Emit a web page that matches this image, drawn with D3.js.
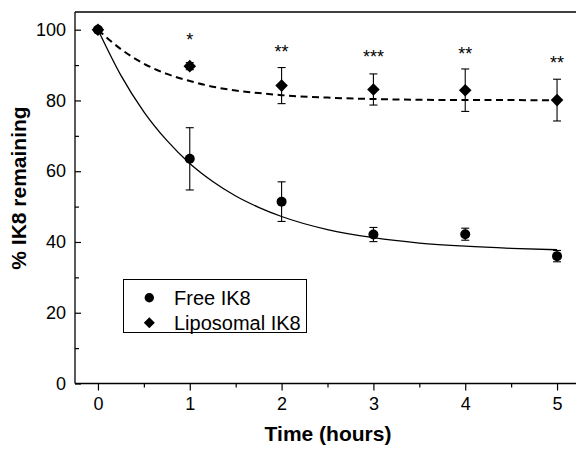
<!DOCTYPE html>
<html>
<head>
<meta charset="utf-8">
<script src="https://cdn.jsdelivr.net/npm/d3@7"></script>
<style>
  html, body { margin: 0; padding: 0; background: #fff; }
  svg { display: block; }
  text { font-family: Arial, "Liberation Sans", sans-serif; fill: #000; }
</style>
</head>
<body>
<svg id="chart" width="576" height="449"></svg>
<script>
// ---- data ----
const timePoints = [0, 1, 2, 3, 4, 5];
const freeMean = [100, 63.5, 51.4, 42.1, 42.2, 36.0];
const freeErr = [0, 8.8, 5.6, 2.0, 1.7, 1.6];
const liposomalMean = [100, 89.7, 84.2, 83.1, 82.9, 80.1];
const liposomalErr = [0, 1.0, 5.1, 4.4, 6.0, 5.9];

const fitX = [0, 0.25, 0.5, 0.75, 1, 1.25, 1.5, 1.75, 2, 2.5, 3, 3.5, 4, 4.5, 5];
const freeFit = [100, 87.1, 76.8, 68.7, 62.2, 57.1, 53.0, 49.8, 47.2, 43.5, 41.2, 39.7, 38.8, 38.2, 37.8];
const liposomalFit = [100, 94.5, 90.4, 87.5, 85.5, 83.9, 82.8, 82.1, 81.5, 80.8, 80.4, 80.2, 80.1, 80.1, 80.0];

const starLabels = ["*", "**", "***", "**", "**"];
const starX = [1, 2, 3, 4, 5];
const starY = [98.2, 94.7, 93.3, 94.2, 91.6];

const xTicks = [0, 1, 2, 3, 4, 5];
const xMinorTicks = [0.5, 1.5, 2.5, 3.5, 4.5];
const yTicks = [0, 20, 40, 60, 80, 100];
const yMinorTicks = [10, 30, 50, 70, 90];

const legendLabels = ["Free IK8", "Liposomal IK8"];
const xTitle = "Time (hours)";
const yTitle = "% IK8 remaining";

// ---- layout ----
const svg = d3.select("#chart");
const pL = 75, pR = 580, pT = 12, pB = 383.5;

const x = d3.scaleLinear().domain([-0.25, 5.25]).range([pL, pR]);
const y = d3.scaleLinear().domain([0, 105]).range([pB, pT]);

const FONT = 'Arial, "Liberation Sans", sans-serif';

// frame top line
svg.append("line")
  .attr("x1", pL).attr("x2", pR).attr("y1", pT).attr("y2", pT)
  .attr("stroke", "#000").attr("stroke-width", 1.3);

// x axis
const xAxis = svg.append("g").attr("transform", `translate(0,${pB})`)
  .call(d3.axisBottom(x).tickValues(xTicks).tickSize(7).tickPadding(7).tickFormat(d3.format("d")));
const xMinor = svg.append("g").attr("transform", `translate(0,${pB})`)
  .call(d3.axisBottom(x).tickValues(xMinorTicks).tickSize(4).tickFormat(""));
xMinor.select(".domain").remove();

// y axis (ticks inward)
const yAxis = svg.append("g").attr("transform", `translate(${pL},0)`)
  .call(d3.axisLeft(y).tickValues(yTicks).tickSize(-6).tickPadding(9).tickFormat(d3.format("d")));
const yMinor = svg.append("g").attr("transform", `translate(${pL},0)`)
  .call(d3.axisLeft(y).tickValues(yMinorTicks).tickSize(-4).tickFormat(""));
yMinor.select(".domain").remove();

[xAxis, yAxis, xMinor, yMinor].forEach(g => {
  g.selectAll(".domain").attr("stroke", "#000").attr("stroke-width", 1.3);
  g.selectAll(".tick line").attr("stroke", "#000").attr("stroke-width", 1.2);
  g.selectAll(".tick text").attr("font-family", FONT).attr("font-size", 18).attr("fill", "#000");
});
yAxis.select(".domain").attr("d", `M0,${pT}V${pB}`);
xAxis.select(".domain").attr("d", `M${pL},0H${pR}`);

// fit curves
const fitLine = d3.line().x((d, i) => x(fitX[i])).y(d => y(d)).curve(d3.curveMonotoneX);
svg.append("path").attr("d", fitLine(freeFit))
  .attr("fill", "none").attr("stroke", "#000").attr("stroke-width", 1.3);
svg.append("path").attr("d", fitLine(liposomalFit))
  .attr("fill", "none").attr("stroke", "#000").attr("stroke-width", 2)
  .attr("stroke-dasharray", "7,4.5");

// error bars
function errorBars(means, errs) {
  const g = svg.append("g").attr("stroke", "#000").attr("stroke-width", 1.1);
  timePoints.forEach((t, i) => {
    if (!errs[i]) return;
    const cx = x(t), y1 = y(means[i] + errs[i]), y2 = y(means[i] - errs[i]);
    g.append("line").attr("x1", cx).attr("x2", cx).attr("y1", y1).attr("y2", y2);
    g.append("line").attr("x1", cx - 4).attr("x2", cx + 4).attr("y1", y1).attr("y2", y1);
    g.append("line").attr("x1", cx - 4).attr("x2", cx + 4).attr("y1", y2).attr("y2", y2);
  });
}
errorBars(freeMean, freeErr);
errorBars(liposomalMean, liposomalErr);

// markers
const diamond = (s) => `M0,${-s}L${s},0L0,${s}L${-s},0Z`;
svg.append("g").selectAll("circle").data(freeMean).join("circle")
  .attr("cx", (d, i) => x(timePoints[i])).attr("cy", d => y(d))
  .attr("r", 5).attr("fill", "#000");
svg.append("g").selectAll("path").data(liposomalMean).join("path")
  .attr("transform", (d, i) => `translate(${x(timePoints[i])},${y(d)})`)
  .attr("d", diamond(6.3)).attr("fill", "#000");

// significance stars
svg.append("g").selectAll("text").data(starLabels).join("text")
  .attr("x", (d, i) => x(starX[i])).attr("y", (d, i) => y(starY[i]) + 10)
  .attr("text-anchor", "middle").attr("font-size", 18).attr("font-family", FONT)
  .text(d => d);

// legend
const lg = svg.append("g");
lg.append("rect").attr("x", 123.5).attr("y", 279.5).attr("width", 183).attr("height", 53)
  .attr("fill", "#fff").attr("stroke", "#000").attr("stroke-width", 1);
const rowsY = [297.7, 322.7];
lg.append("circle").attr("cx", 149.3).attr("cy", rowsY[0]).attr("r", 4.7).attr("fill", "#000");
lg.append("path").attr("transform", `translate(149.3,${rowsY[1]})`).attr("d", diamond(5.5)).attr("fill", "#000");
lg.selectAll("text.lab").data(legendLabels).join("text").attr("class", "lab")
  .attr("x", 174).attr("y", (d, i) => rowsY[i] + 7)
  .attr("font-size", 20).attr("font-family", FONT).text(d => d);

// axis titles
svg.append("text").attr("x", 328).attr("y", 441).attr("text-anchor", "middle")
  .attr("font-size", 21).attr("font-weight", "bold").attr("font-family", FONT).text(xTitle);
svg.append("text").attr("transform", "translate(26,188) rotate(-90)").attr("text-anchor", "middle")
  .attr("font-size", 21).attr("font-weight", "bold").attr("font-family", FONT).text(yTitle);
</script>
</body>
</html>
